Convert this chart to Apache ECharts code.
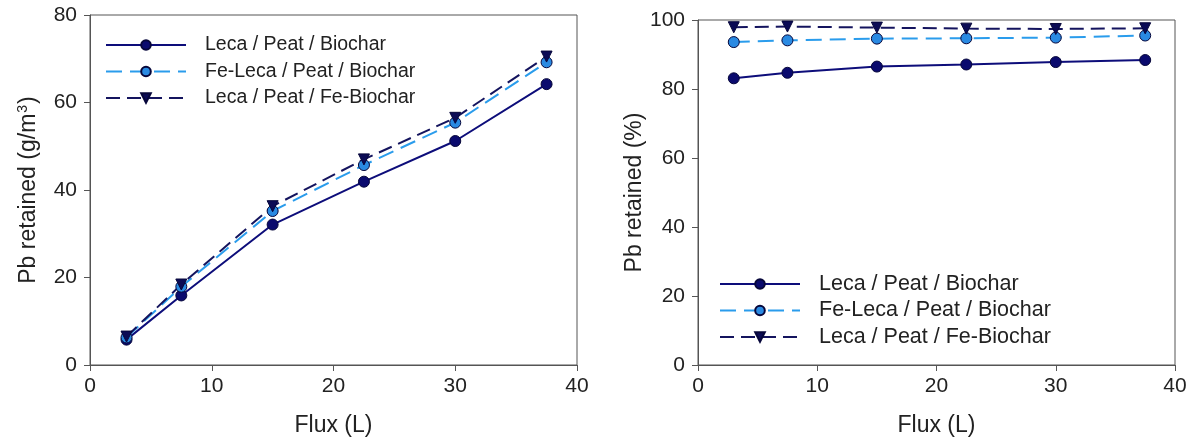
<!DOCTYPE html>
<html>
<head>
<meta charset="utf-8">
<script src="https://cdn.jsdelivr.net/npm/echarts@6/dist/echarts.min.js"></script>
<style>
  html, body { margin: 0; padding: 0; background: #fff; }
  #chart { width: 1198px; height: 445px; }
</style>
</head>
<body>
<div id="chart"></div>
<script>
// Flux volumes at which Pb retention was measured (L)
const flux = [3, 7.5, 15, 22.5, 30, 37.5];

// Cumulative Pb retained (g/m3)
const massLecaPeatBiochar   = [5.8, 15.9, 32.1, 41.9, 51.2, 64.2];
const massFeLecaPeatBiochar = [6.3, 17.9, 35.2, 45.7, 55.4, 69.2];
const massLecaPeatFeBiochar = [6.5, 18.4, 36.3, 47.0, 56.5, 70.5];

// Pb retained (%)
const pctLecaPeatBiochar   = [83.1, 84.7, 86.5, 87.1, 87.8, 88.4];
const pctFeLecaPeatBiochar = [93.6, 94.1, 94.6, 94.7, 94.9, 95.5];
const pctLecaPeatFeBiochar = [97.9, 98.1, 97.8, 97.5, 97.4, 97.6];

const seriesNames = ['Leca / Peat / Biochar', 'Fe-Leca / Peat / Biochar', 'Leca / Peat / Fe-Biochar'];
const xTicks = { min: 0, max: 40, interval: 10 };
const yMassTicks = { min: 0, max: 80, interval: 20 };
const yPctTicks = { min: 0, max: 100, interval: 20 };

const FONT = '"Liberation Sans", Arial, sans-serif';
const AXIS_COLOR = '#555';

const styles = [
  { color: '#0d0d7a', fill: '#0a0a6e', dash: 'solid', symbol: 'circle', size: 11 },
  { color: '#2a9cec', fill: '#2a8ae2', dash: [16, 8], symbol: 'circle', size: 11 },
  { color: '#14145e', fill: '#0b0b55', dash: [14, 7], symbol: 'triangle', size: 11 }
];

function pairs(ys) { return flux.map((x, i) => [x, ys[i]]); }

function makeSeries(name, ys, st, idx) {
  return {
    name: name,
    type: 'line',
    xAxisIndex: idx,
    yAxisIndex: idx,
    data: pairs(ys),
    symbol: st.symbol,
    symbolRotate: st.symbol === 'triangle' ? 180 : 0,
    symbolSize: st.size,
    showAllSymbol: true,
    lineStyle: { color: st.color, width: 2, type: st.dash },
    itemStyle: { color: st.fill, borderColor: '#06063a', borderWidth: 1 },
    emphasis: { disabled: true },
    animation: false
  };
}

function xAxisDef(gridIndex) {
  return {
    gridIndex: gridIndex,
    type: 'value',
    min: xTicks.min, max: xTicks.max, interval: xTicks.interval,
    name: 'Flux (L)',
    nameLocation: 'middle',
    nameGap: 49,
    nameTextStyle: { fontFamily: FONT, fontSize: 23, color: '#222' },
    axisLine: { show: true, onZero: false, lineStyle: { color: AXIS_COLOR, width: 1 } },
    axisTick: { show: true, inside: false, length: 6, lineStyle: { color: AXIS_COLOR } },
    axisLabel: { fontFamily: FONT, fontSize: 21, color: '#222', margin: 11 },
    splitLine: { show: false }
  };
}

function yAxisDef(gridIndex, ticks, name, rich, gap) {
  return {
    gridIndex: gridIndex,
    type: 'value',
    min: ticks.min, max: ticks.max, interval: ticks.interval,
    name: name,
    nameLocation: 'middle',
    nameGap: gap,
    nameRotate: 90,
    nameTextStyle: { fontFamily: FONT, fontSize: 23, color: '#222', rich: rich },
    axisLine: { show: true, onZero: false, lineStyle: { color: AXIS_COLOR, width: 1 } },
    axisTick: { show: true, inside: false, length: 6, lineStyle: { color: AXIS_COLOR } },
    axisLabel: { fontFamily: FONT, fontSize: 21, color: '#222', margin: 13 },
    splitLine: { show: false }
  };
}

function legendDef(left, top, fontSize, gap) {
  return {
    left: left,
    top: top,
    orient: 'vertical',
    itemWidth: 80,
    itemHeight: 12,
    itemGap: gap,
    textStyle: { fontFamily: FONT, fontSize: fontSize, color: '#222', padding: [0, 0, 0, 14] },
    data: seriesNames,
    selectedMode: false
  };
}

const chart = echarts.init(document.getElementById('chart'), null, { renderer: 'canvas' });

const option = {
  backgroundColor: '#fff',
  animation: false,
  grid: [
    { left: 90, right: 621, top: 15, bottom: 80, show: true, borderColor: AXIS_COLOR, borderWidth: 1, backgroundColor: 'transparent' },
    { left: 698, right: 23, top: 20, bottom: 80, show: true, borderColor: AXIS_COLOR, borderWidth: 1, backgroundColor: 'transparent' }
  ],
  xAxis: [xAxisDef(0), xAxisDef(1)],
  yAxis: [
    yAxisDef(0, yMassTicks, '{t|Pb retained (g/m}{s|3}{t|)}', {
      t: { fontFamily: FONT, fontSize: 23, color: '#222' },
      s: { fontFamily: FONT, fontSize: 14, color: '#222', verticalAlign: 'top', padding: [0, 1, 12, 1] }
    }, 48),
    yAxisDef(1, yPctTicks, 'Pb retained (%)', null, 50)
  ],
  legend: [
    Object.assign(legendDef(100, 30, 19.5, 6.5), { id: 'legMass' }),
    Object.assign(legendDef(714, 268, 21.5, 4.5), { id: 'legPct' })
  ],
  series: [
    makeSeries(seriesNames[0], massLecaPeatBiochar, styles[0], 0),
    makeSeries(seriesNames[1], massFeLecaPeatBiochar, styles[1], 0),
    makeSeries(seriesNames[2], massLecaPeatFeBiochar, styles[2], 0),
    makeSeries(seriesNames[0], pctLecaPeatBiochar, styles[0], 1),
    makeSeries(seriesNames[1], pctFeLecaPeatBiochar, styles[1], 1),
    makeSeries(seriesNames[2], pctLecaPeatFeBiochar, styles[2], 1)
  ]
};

chart.setOption(option);
</script>
</body>
</html>
